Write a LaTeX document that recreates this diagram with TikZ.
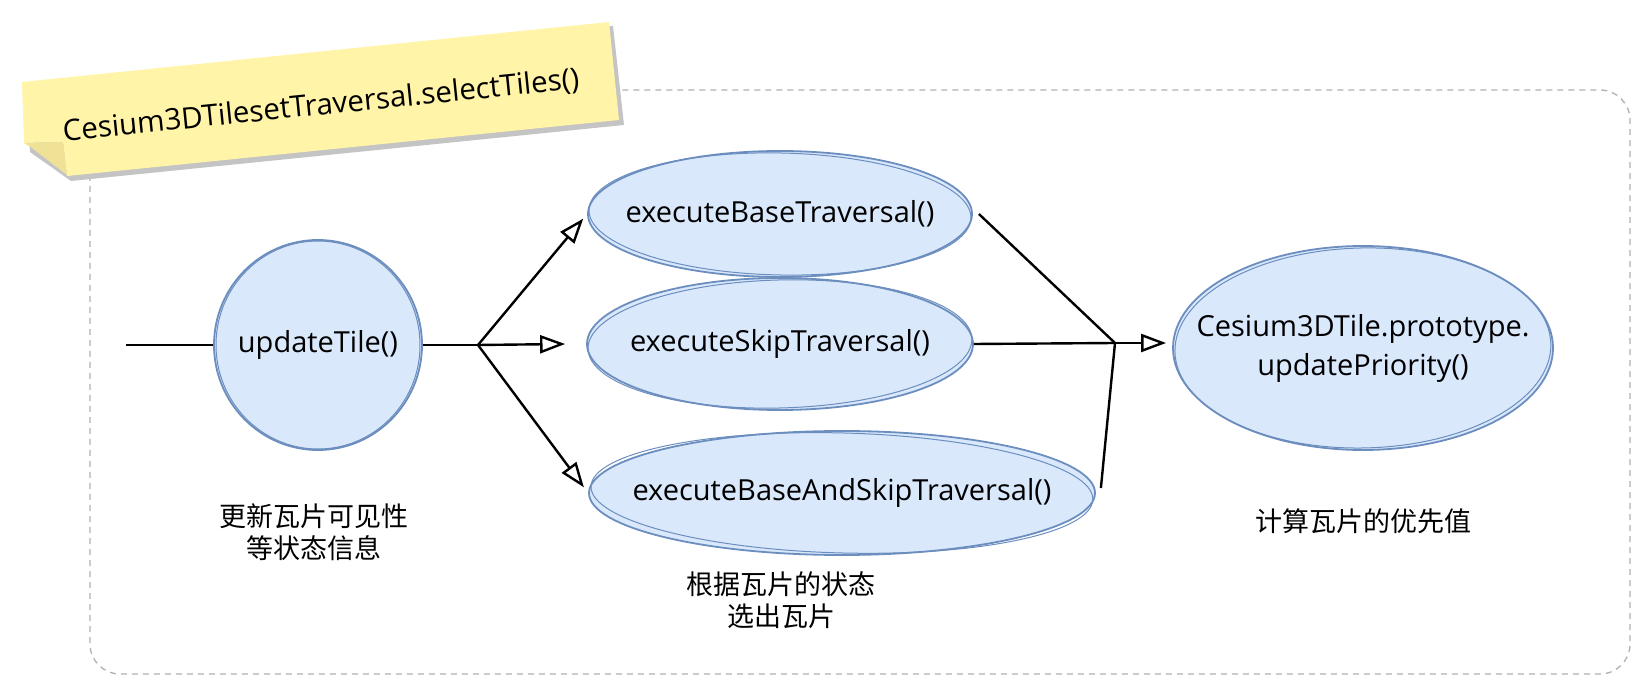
\documentclass[tikz,border=0pt]{standalone}
\usepackage{fontspec}
\setmainfont{Open Sans}
\newfontfamily\cjk{Noto Sans CJK SC}
\usetikzlibrary{shapes.geometric,arrows.meta}
\definecolor{efill}{HTML}{DAE8FC}
\definecolor{estroke}{HTML}{6C8EBF}
\definecolor{noteY}{HTML}{FFF4A8}
\definecolor{noteF}{HTML}{EFE296}
\definecolor{noteS}{HTML}{C4C4C4}
\definecolor{frameC}{HTML}{B0B0B0}
\begin{document}
\begin{tikzpicture}[x=1pt,y=-1pt,
  oval/.style={ellipse, fill=efill, draw=estroke, line width=1.8pt, inner sep=0pt,
               font=\fontsize{29}{39}\selectfont},
  sketch/.style={draw=estroke, line width=1pt},
  conn/.style={line width=2.4pt, black},
  arr/.style={conn, -{Triangle[open, length=25pt, width=18pt]}},
  lbl/.style={font=\cjk\fontsize{27}{32}\selectfont, align=center},
  titletext/.style={font=\fontsize{29.5}{34}\selectfont},
]
\useasboundingbox (0,0) rectangle (1650,700);

% container frame
\draw[frameC, line width=1.3pt, dash pattern=on 6pt off 5pt, rounded corners=30pt]
  (90,90) rectangle (1630,674);

% sticky note
\fill[noteS] (26,86) -- (613,26) -- (624,125) -- (71,181) -- (30,152) -- cycle;
\fill[noteY] (22,82) -- (609,22) -- (619,120) -- (67,176) -- (63,142) -- (24,143) -- cycle;
\fill[noteF] (24,143) -- (63,142) -- (67,175) -- (32,148) -- cycle;
\node[titletext, rotate=5.8] (title) at (321,106) {Cesium3DTilesetTraversal.selectTiles()};

% ellipses
\node[oval, minimum width=208pt, minimum height=210pt] (ut) at (318,345) {\makebox[0pt]{updateTile()}};
\node[oval, minimum width=384pt, minimum height=126pt] (e1) at (780,214) {\makebox[0pt]{executeBaseTraversal()}};
\node[oval, minimum width=386pt, minimum height=132pt] (e2) at (780,344) {\makebox[0pt]{executeSkipTraversal()}};
\node[oval, minimum width=506pt, minimum height=124pt] (e3) at (842,493) {\makebox[0pt]{executeBaseAndSkipTraversal()}};
\node[oval, minimum width=380pt, minimum height=204pt] (e4) at (1363,348)
  {\makebox[0pt]{\begin{tabular}{@{}c@{}}Cesium3DTile.prototype.\\updatePriority()\end{tabular}}};

% sketchy second strokes
\draw[sketch, rotate around={2:(ut.center)}] (ut.center) ellipse [x radius=102pt, y radius=104pt];
\draw[sketch, rotate around={-1.2:(e1.center)}] (e1.center) ellipse [x radius=191pt, y radius=61pt];
\draw[sketch, rotate around={1.5:(e2.center)}] (e2.center) ellipse [x radius=192pt, y radius=64pt];
\draw[sketch, rotate around={-1.5:(e3.center)}] (e3.center) ellipse [x radius=251pt, y radius=60pt];
\draw[sketch, rotate around={1.2:(e4.center)}] (e4.center) ellipse [x radius=188pt, y radius=100pt];

% connectors
\coordinate (src) at (126,345);
\coordinate (j1) at (478,345);
\coordinate (j2) at (1115,343);
\draw[conn] (src) -- (ut.west);
\draw[conn] (ut.east) -- (j1);
\draw[arr, shorten >=6pt] (j1) -- (e1.west);
\draw[arr] (j1) -- ([xshift=-21pt]e2.west);
\draw[arr, shorten >=7pt] (j1) -- (e3.west);
\draw[conn] ([xshift=6pt]e1.east) -- (j2);
\draw[conn] (e2.east) -- (j2);
\draw[conn] ([xshift=5pt,yshift=5pt]e3.east) -- (j2);
\draw[arr, shorten >=6pt] (j2) -- (j2 -| e4.west);

% labels
\node[lbl] (l1) at (314,532) {更新瓦片可见性\\等状态信息};
\node[lbl] (l2) at (781,600) {根据瓦片的状态\\选出瓦片};
\node[lbl] (l3) at (1363,521) {计算瓦片的优先值};
\end{tikzpicture}
\end{document}
